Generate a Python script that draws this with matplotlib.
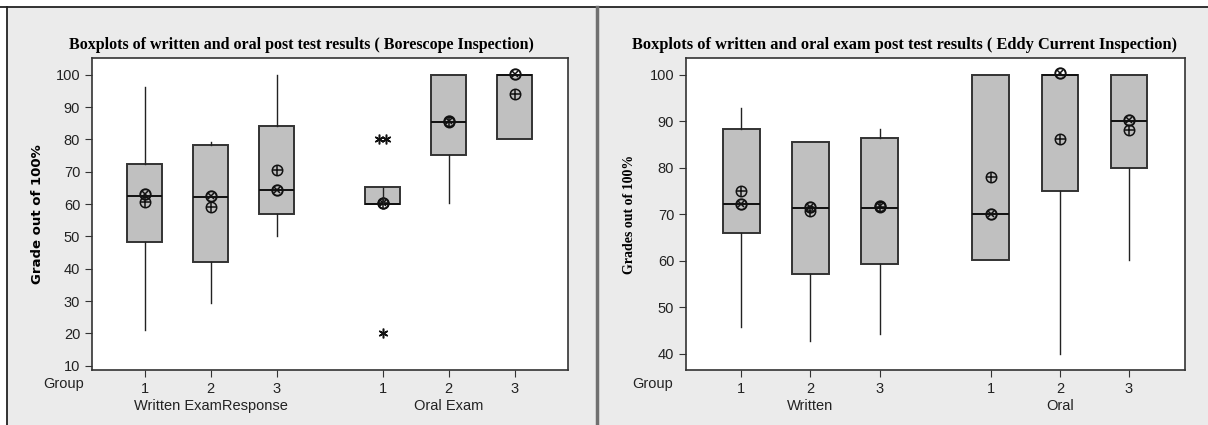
import numpy as np
import matplotlib.pyplot as plt
from matplotlib.patches import Rectangle
from matplotlib.lines import Line2D

# group layout (Minitab puts a gap between the two exam types)
groups = ["1", "2", "3", "1", "2", "3"]
positions = [1, 2, 3, 4.61, 5.61, 6.61]

# Borescope inspection: written 1-3, oral 1-3
bore_whislo = [21, 29.4, 50.3, 60, 60.2, 80]
bore_q1 = [48.3, 42.2, 57.1, 60.1, 75.2, 80.2]
bore_med = [62.6, 62.2, 64.3, 60.1, 85.4, 100]
bore_q3 = [72.3, 78.2, 84.3, 65.2, 100, 100]
bore_whishi = [96.1, 79.1, 100, 65.2, 100, 100]
bore_fliers = [[], [], [], [80, 80, 20], [], []]
bore_plus = [60.6, 59.1, 70.5, 60.2, 85.3, 94.2]
bore_cross = [63.0, 62.5, 64.4, 60.5, 85.6, 100.2]

# Eddy current inspection
eddy_whislo = [45.7, 42.8, 44.2, 60.1, 40, 60.1]
eddy_q1 = [66, 57.2, 59.4, 60.1, 75, 80]
eddy_med = [72.1, 71.4, 71.4, 70, 100, 90.1]
eddy_q3 = [88.4, 85.6, 86.3, 100, 100, 100]
eddy_whishi = [92.8, 85.6, 88.4, 100, 100, 100]
eddy_fliers = [[], [], [], [], [], []]
eddy_plus = [75.1, 70.7, 71.5, 78.1, 86.2, 88.1]
eddy_cross = [72.3, 71.6, 71.7, 70.1, 100.4, 90.3]

W, H = 1208, 425
fig = plt.figure(figsize=(W / 100, H / 100), dpi=100)
fig.patch.set_facecolor("white")

bg = "#ebebeb"
edge = "#333333"
fig.add_artist(Rectangle((7 / W, 0), 589 / W, 1 - 7 / H, transform=fig.transFigure,
                         facecolor=bg, edgecolor="none", zorder=0))
fig.add_artist(Rectangle((598 / W, 0), 610 / W, 1 - 7 / H, transform=fig.transFigure,
                         facecolor=bg, edgecolor="none", zorder=0))
fig.add_artist(Line2D([0, 1], [1 - 7 / H] * 2, transform=fig.transFigure, color="#222222", lw=1.3))
fig.add_artist(Line2D([7 / W] * 2, [0, 1 - 7 / H], transform=fig.transFigure, color="#222222", lw=1.3))
fig.add_artist(Line2D([597 / W] * 2, [0, 1 - 7 / H], transform=fig.transFigure, color="#707070", lw=2.5))


def panel(rect, whislo, q1, med, q3, whishi, fliers, plus, cross, ylim, yticks):
    ax = fig.add_axes(rect)
    stats = []
    for i in range(len(positions)):
        stats.append(dict(whislo=whislo[i], q1=q1[i], med=med[i], q3=q3[i],
                          whishi=whishi[i], fliers=[]))
    ax.bxp(stats, positions=positions, widths=0.53, showcaps=False, showfliers=False,
           patch_artist=True,
           boxprops=dict(facecolor="#c0c0c0", edgecolor=edge, linewidth=1.4),
           medianprops=dict(color="#111111", linewidth=1.4),
           whiskerprops=dict(color="#222222", linewidth=1.0))
    # outliers, tied values spread side by side
    for p, fl in zip(positions, fliers):
        vals, counts = np.unique(fl, return_counts=True)
        for v, c in zip(vals, counts):
            offs = (np.arange(c) - (c - 1) / 2) * 0.11
            ax.plot(p + offs, [v] * c, linestyle="none", marker=(6, 2, 0),
                    markersize=7, color="#111111", markeredgewidth=1.1)
    # mean symbols
    ax.plot(positions, plus, linestyle="none", marker="o", markersize=7.5,
            markerfacecolor="none", markeredgecolor="#111111", markeredgewidth=1.1)
    ax.plot(positions, plus, linestyle="none", marker="+", markersize=7.5,
            color="#111111", markeredgewidth=1.1)
    ax.plot(positions, cross, linestyle="none", marker="o", markersize=7.5,
            markerfacecolor="none", markeredgecolor="#111111", markeredgewidth=1.4)
    ax.plot(positions, cross, linestyle="none", marker="x", markersize=5,
            color="#111111", markeredgewidth=1.1)
    ax.set_xlim(0.2, 7.42)
    ax.set_ylim(*ylim)
    ax.set_yticks(yticks)
    ax.set_xticks(positions, groups)
    ax.tick_params(length=5, color=edge, labelsize=10.5, labelcolor="#222222")
    for s in ax.spines.values():
        s.set_color(edge)
        s.set_linewidth(1.2)
    ax.set_facecolor("white")
    return ax


plt.rcParams["font.family"] = "Liberation Sans"

ax1 = panel([92 / W, 55 / H, 476 / W, 312 / H], bore_whislo, bore_q1, bore_med, bore_q3,
            bore_whishi, bore_fliers, bore_plus, bore_cross, (8.7, 105.2), range(10, 101, 10))
ax2 = panel([686 / W, 55 / H, 499 / W, 312 / H], eddy_whislo, eddy_q1, eddy_med, eddy_q3,
            eddy_whishi, eddy_fliers, eddy_plus, eddy_cross, (36.5, 103.6), range(40, 101, 10))

# Minitab's vertical line inside the oral group 1 box (left panel)
ax1.vlines(positions[3], bore_q1[3], bore_q3[3], color="#222222", lw=1.0, zorder=4)

fig.text(301 / W, 1 - 45 / H, "Boxplots of written and oral post test results ( Borescope Inspection)",
         ha="center", va="center", fontsize=11.5, fontweight="bold", family="Liberation Serif")
fig.text(905 / W, 1 - 45 / H,
         "Boxplots of written and oral exam post test results ( Eddy Current Inspection)",
         ha="center", va="center", fontsize=11.8, fontweight="bold", family="Liberation Serif")

ax1.set_ylabel("Grade out of 100%", fontsize=9.5, fontweight="bold", family="DejaVu Sans", labelpad=8)
ax2.set_ylabel("Grades out of 100%", fontsize=10, fontweight="bold", family="Liberation Serif",
               labelpad=10)

fig.text(64 / W, 1 - 384 / H, "Group", ha="center", va="center", fontsize=10.5, color="#222222")
fig.text(653 / W, 1 - 384 / H, "Group", ha="center", va="center", fontsize=10.5, color="#222222")
for ax, names in ((ax1, ["Written ExamResponse", "Oral Exam"]), (ax2, ["Written", "Oral"])):
    ax.text(np.mean(positions[:3]), -0.114, names[0], transform=ax.get_xaxis_transform(),
            ha="center", va="center", fontsize=10.5, color="#222222")
    ax.text(np.mean(positions[3:]), -0.114, names[1], transform=ax.get_xaxis_transform(),
            ha="center", va="center", fontsize=10.5, color="#222222")

fig.savefig("out.png", dpi=100)
